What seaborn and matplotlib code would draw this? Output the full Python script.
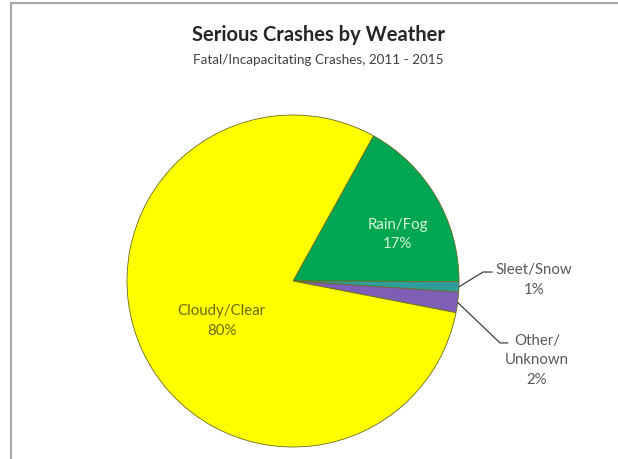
import matplotlib
matplotlib.use("Agg")
import matplotlib.pyplot as plt
import seaborn as sns
import numpy as np
from matplotlib.lines import Line2D

# Data
categories = ["Rain/Fog", "Sleet/Snow", "Other/\nUnknown", "Cloudy/Clear"]
values = [17, 1, 2, 80]
pct_labels = ["17%", "1%", "2%", "80%"]
colors = ["#00A651", "#2E9E9A", "#7E5FB5", "#FFFF00"]

sns.set_theme(style="white")
plt.rcParams['font.family'] = ['Lato', 'DejaVu Sans']

W, H = 618, 459
fig = plt.figure(figsize=(W / 100, H / 100), dpi=100)
fig.patch.set_facecolor("white")

cx, cy, r = 293, 281, 166
ax = fig.add_axes([(cx - r) / W, (H - cy - r) / H, 2 * r / W, 2 * r / H])
wedges, _ = ax.pie(values, colors=colors, startangle=61, counterclock=False,
                   radius=1, wedgeprops=dict(edgecolor="#6b6b20", linewidth=0.6))
ax.set_xlim(-1, 1)
ax.set_ylim(-1, 1)
ax.set_aspect("equal")
ax.axis("off")

def mid(w):
    a = np.deg2rad((w.theta1 + w.theta2) / 2)
    return np.cos(a), np.sin(a)

fs = 10.8
ls = 1.5
# inside labels
ax.text(0.63, 0.28, f"{categories[0]}\n{pct_labels[0]}", ha="center", va="center",
        color="#d8f5d8", fontsize=fs, linespacing=ls)
ax.text(-0.43, -0.24, f"{categories[3]}\n{pct_labels[3]}", ha="center", va="center",
        color="#6b6b00", fontsize=fs, linespacing=ls)

# outside labels with leader lines
lc = "#404040"
x0, y0 = mid(wedges[1])
ax.plot([x0, 1.145, 1.2], [y0, 0.054, 0.054], color=lc, lw=0.9, clip_on=False)
ax.text(1.45, 0.006, f"{categories[1]}\n{pct_labels[1]}", ha="center", va="center",
        color="#595959", fontsize=fs, linespacing=ls)

x0, y0 = mid(wedges[2])
ax.plot([x0, 1.247, 1.295], [y0, -0.373, -0.373], color=lc, lw=0.9, clip_on=False)
ax.text(1.47, -0.476, f"{categories[2]}\n{pct_labels[2]}", ha="center", va="center",
        color="#595959", fontsize=fs, linespacing=ls)

# titles
fig.text(318 / W, 1 - 35 / H, "Serious Crashes by Weather", ha="center", va="center",
         fontsize=14.5, fontweight="bold", color="#262626")
fig.text(318 / W, 1 - 60 / H, "Fatal/Incapacitating Crashes, 2011 - 2015", ha="center",
         va="center", fontsize=9.7, color="#404040")

# frame lines (left and top)
fig.add_artist(Line2D([11 / W, 11 / W], [0, 1 - 3 / H], transform=fig.transFigure,
                      color="#a8a8a8", lw=1.6))
fig.add_artist(Line2D([11 / W, 1], [1 - 3 / H, 1 - 3 / H], transform=fig.transFigure,
                      color="#a8a8a8", lw=1.6))

fig.savefig("out.png", dpi=100, facecolor="white")
